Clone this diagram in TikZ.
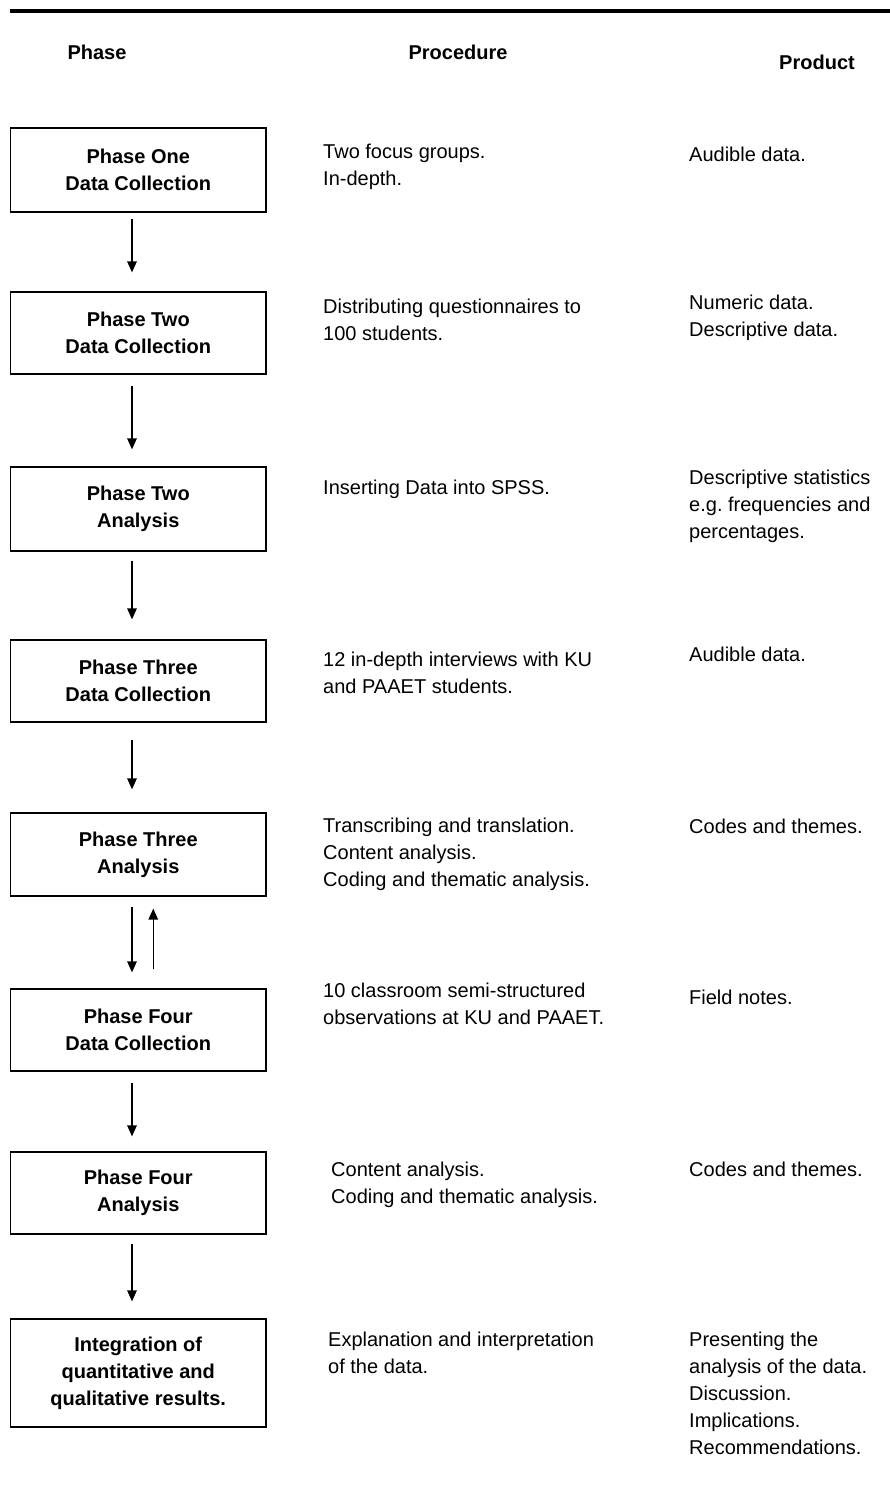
\documentclass[tikz,border=0pt]{standalone}
\usepackage{fontspec}
\setmainfont{Liberation Sans}
\usetikzlibrary{arrows.meta}
\frenchspacing
\begin{document}
\begin{tikzpicture}[x=1pt,y=-1pt,
  every node/.style={font=\fontsize{20}{27}\selectfont},
  box/.style={draw, line width=1.2pt, minimum width=255.5pt, inner sep=0pt, align=center, font=\fontsize{20}{27}\selectfont\bfseries},
  head/.style={anchor=base, inner sep=0pt, font=\fontsize{20}{27}\selectfont\bfseries},
  txt/.style={anchor=base west, inner sep=0pt, align=left},
  arr/.style={line width=1.3pt, -{Triangle[length=11pt,width=9.5pt]}}]
\useasboundingbox (0,0) rectangle (890,1499);
\coordinate (rl) at (9.5,10.7);
\coordinate (rr) at (890,10.7);
\draw[line width=4pt] (rl) -- (rr);
% headers
\node[head] (h1) at (97,59) {Phase};
\node[head] (h2) at (458,59) {Procedure};
\node[head] (h3) at (817,69) {Product};
% phase boxes
\node[box, minimum height=84pt] (p1) at (138.25,170) {Phase One\\Data Collection};
\node[box, minimum height=82pt] (p2) at (138.25,333) {Phase Two\\Data Collection};
\node[box, minimum height=84pt] (p3) at (138.25,509) {Phase Two\\Analysis};
\node[box, minimum height=82pt] (p4) at (138.25,681) {Phase Three\\Data Collection};
\node[box, minimum height=83pt] (p5) at (138.25,854.5) {Phase Three\\Analysis};
\node[box, minimum height=82pt] (p6) at (138.25,1030) {Phase Four\\Data Collection};
\node[box, minimum height=82pt] (p7) at (138.25,1193) {Phase Four\\Analysis};
\node[box, minimum height=108pt] (p8) at (138.25,1373) {Integration of\\quantitative and\\qualitative results.};
% arrows
\draw[arr, shorten <=6pt, shorten >=19pt] ([xshift=-6.25pt]p1.south) -- ([xshift=-6.25pt]p2.north);
\draw[arr, shorten <=11pt, shorten >=17pt] ([xshift=-6.25pt]p2.south) -- ([xshift=-6.25pt]p3.north);
\draw[arr, shorten <=9pt, shorten >=20pt] ([xshift=-6.25pt]p3.south) -- ([xshift=-6.25pt]p4.north);
\draw[arr, shorten <=17pt, shorten >=23pt] ([xshift=-6.25pt]p4.south) -- ([xshift=-6.25pt]p5.north);
\draw[arr, shorten <=10pt, shorten >=16pt] ([xshift=-6.25pt]p5.south) -- ([xshift=-6.25pt]p6.north);
\draw[arr, shorten <=19pt, shorten >=12pt] ([xshift=15pt]p6.north) -- ([xshift=15pt]p5.south);
\draw[arr, shorten <=11pt, shorten >=15pt] ([xshift=-6.25pt]p6.south) -- ([xshift=-6.25pt]p7.north);
\draw[arr, shorten <=9pt, shorten >=17pt] ([xshift=-6.25pt]p7.south) -- ([xshift=-6.25pt]p8.north);
% procedures (base anchor = baseline of last line)
\node[txt] (r1) at (323,185) {Two focus groups.\\In-depth.};
\node[txt] (r2) at (323,340) {Distributing questionnaires to\\100 students.};
\node[txt] (r3) at (323,494) {Inserting Data into SPSS.};
\node[txt] (r4) at (323,693) {12 in-depth interviews with KU\\and PAAET students.};
\node[txt] (r5) at (323,886) {Transcribing and translation.\\Content analysis.\\Coding and thematic analysis.};
\node[txt] (r6) at (323,1024) {10 classroom semi-structured\\observations at KU and PAAET.};
\node[txt] (r7) at (331,1203) {Content analysis.\\Coding and thematic analysis.};
\node[txt] (r8) at (328,1373) {Explanation and interpretation\\of the data.};
% products
\node[txt] (d1) at (689,161) {Audible data.};
\node[txt] (d2) at (689,336) {Numeric data.\\Descriptive data.};
\node[txt] (d3) at (689,538) {Descriptive statistics\\e.g. frequencies and\\percentages.};
\node[txt] (d4) at (689,661) {Audible data.};
\node[txt] (d5) at (689,833) {Codes and themes.};
\node[txt] (d6) at (689,1004) {Field notes.};
\node[txt] (d7) at (689,1176) {Codes and themes.};
\node[txt] (d8) at (689,1454) {Presenting the\\analysis of the data.\\Discussion.\\Implications.\\Recommendations.};
\end{tikzpicture}
\end{document}
